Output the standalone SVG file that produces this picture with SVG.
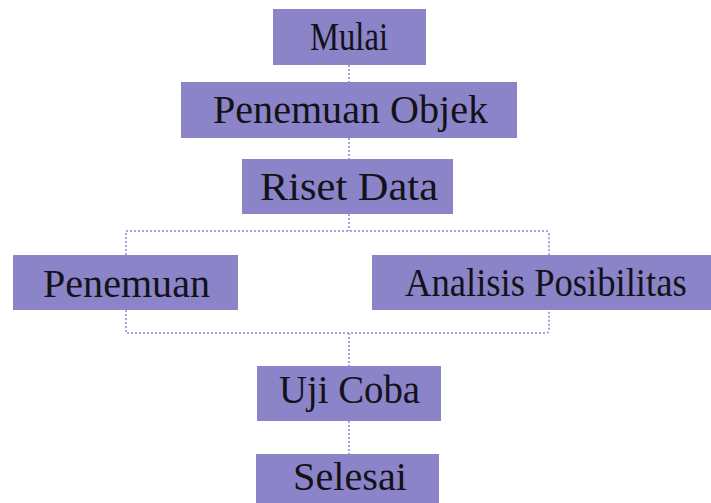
<svg xmlns="http://www.w3.org/2000/svg" width="711" height="503" viewBox="0 0 711 503">
<style>
.box{fill:#8b84c8}
.lbl{font-family:"Liberation Serif","DejaVu Serif",serif;font-size:41px;fill:#141218}
.con{fill:none;stroke:#aaa4de;stroke-width:2;stroke-dasharray:2 2}
</style>
<rect width="711" height="503" fill="#ffffff"/>
<g id="connectors">
<path class="con" d="M349 65V82M349 138V159M349 214V231M349 333V366M349 421V454"/>
<path class="con" d="M126 255V231H546Q549 231 549 234V255M126 310V333H546Q549 333 549 330V310"/>
</g>
<g id="mulai"><rect class="box" x="273" y="9" width="153" height="56"/><text class="lbl" x="310" y="50" textLength="78" lengthAdjust="spacingAndGlyphs">Mulai</text></g>
<g id="penemuan-objek"><rect class="box" x="181" y="82" width="336" height="56"/><text class="lbl" x="213" y="123" textLength="275" lengthAdjust="spacingAndGlyphs">Penemuan Objek</text></g>
<g id="riset-data"><rect class="box" x="242" y="159" width="211" height="55"/><text class="lbl" x="260" y="200" textLength="178" lengthAdjust="spacingAndGlyphs">Riset Data</text></g>
<g id="penemuan"><rect class="box" x="13" y="255" width="225" height="55"/><text class="lbl" x="43" y="297" textLength="167" lengthAdjust="spacingAndGlyphs">Penemuan</text></g>
<g id="analisis-posibilitas"><rect class="box" x="372" y="255" width="339" height="55"/><text class="lbl" transform="translate(405 296) scale(0.893 1)" x="0" y="0">Analisis Posibilitas</text></g>
<g id="uji-coba"><rect class="box" x="257" y="366" width="184" height="55"/><text class="lbl" x="279" y="403" textLength="141" lengthAdjust="spacingAndGlyphs">Uji Coba</text></g>
<g id="selesai"><rect class="box" x="256" y="454" width="183" height="49"/><text class="lbl" x="293" y="490" textLength="114" lengthAdjust="spacingAndGlyphs">Selesai</text></g>
</svg>
